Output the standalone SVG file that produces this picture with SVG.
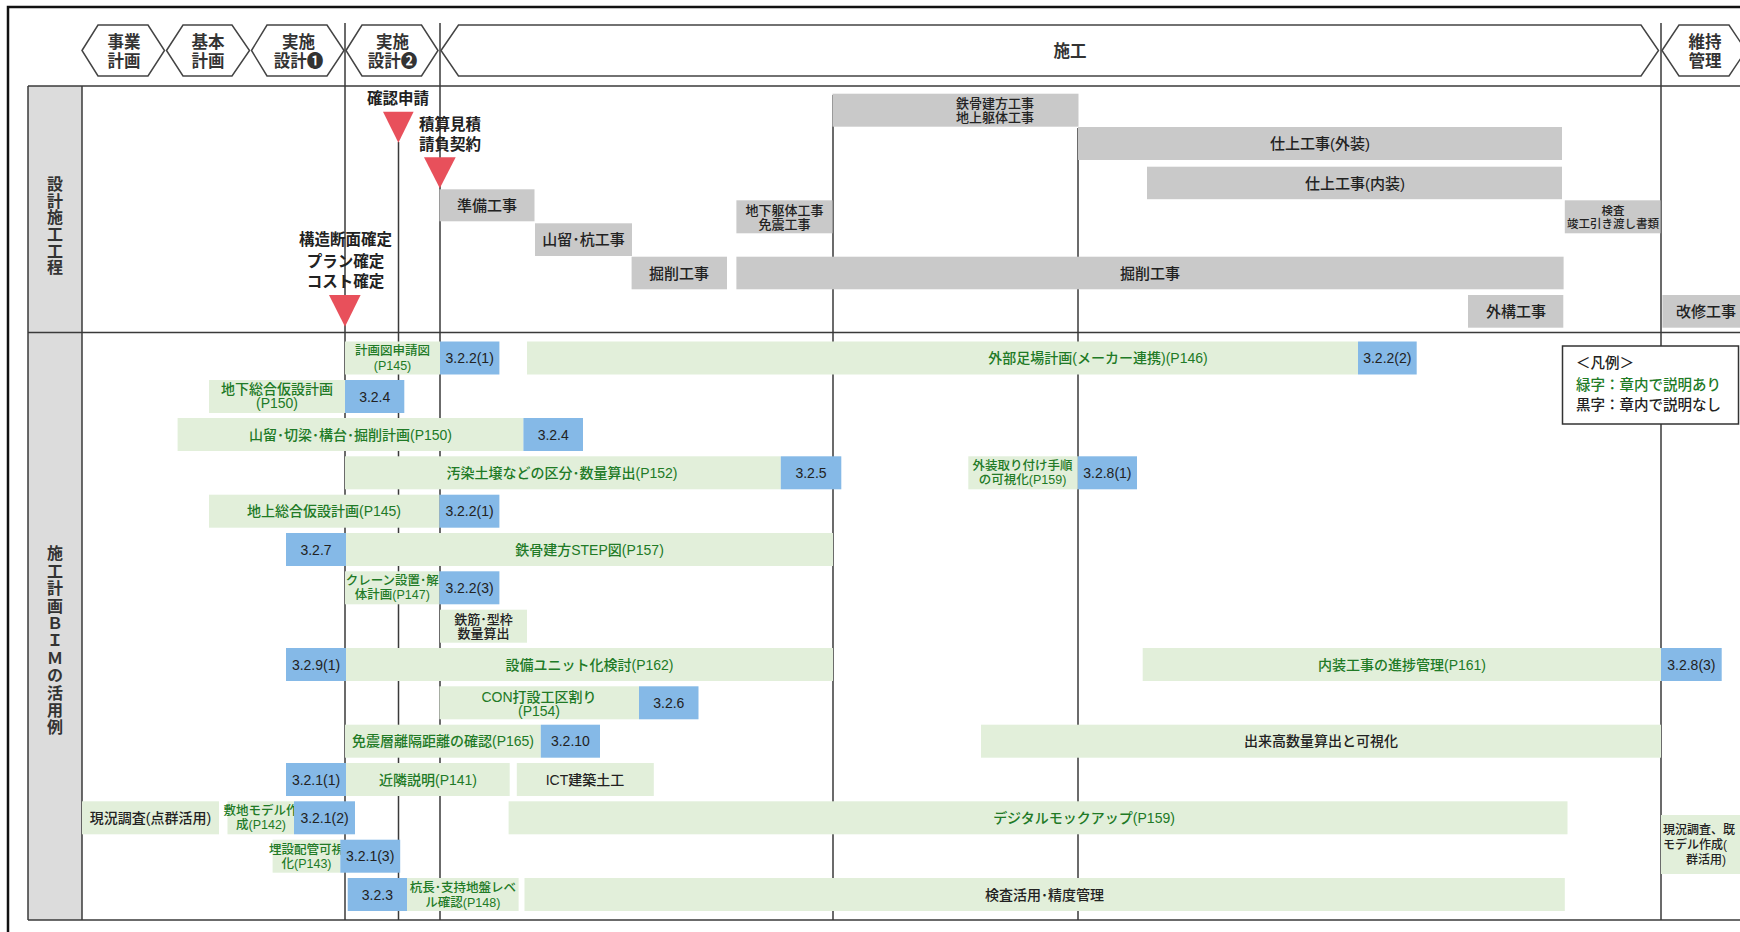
<svg xmlns="http://www.w3.org/2000/svg" width="1740" height="932" viewBox="0 0 1740 932">
<style>
.hex{fill:#fff;stroke:#444;stroke-width:1.5}
.ln{stroke:#3a3a3a;stroke-width:1.5;fill:none}
.k{fill:#c9c9c9}
.g{fill:#e2efda}
.b{fill:#85b9e7}
.tri{fill:#e8505b}
text{font-family:"Liberation Sans","Noto Sans CJK JP",sans-serif;dominant-baseline:central;text-anchor:middle;fill:#222;font-weight:500}
.h{font-size:16.5px;font-weight:bold;fill:#333}
.m{font-size:15.5px;font-weight:bold;fill:#222}
.gt{font-size:15px}
.gs{font-size:13px}
.gx{font-size:11.5px}
.n{font-family:"Liberation Sans",Arial,sans-serif;font-size:14px;fill:#222;font-weight:normal}
.tg{fill:#217a26;font-size:14px}
.tgs{fill:#217a26;font-size:12.5px}
.tk{fill:#222;font-size:14px}
.tks{fill:#222;font-size:13px}
.lab{font-family:"Noto Sans CJK JP",sans-serif;font-size:16px;fill:#333;font-weight:bold;writing-mode:vertical-rl;text-orientation:upright}
.lg{font-size:14.5px;text-anchor:start}
</style>
<rect x="0" y="0" width="1740" height="932" fill="#fff"/>
<rect x="8" y="7" width="1800" height="1000" fill="none" stroke="#111" stroke-width="2.5"/>

<!-- label column -->
<g id="label-column">
<rect x="28" y="86" width="54" height="834" fill="#dcdcdc"/>
<text class="lab" x="55" y="226" letter-spacing="0.7">設計施工工程</text>
<text class="lab" x="55" y="641" letter-spacing="1.4">施工計画ＢＩＭの活用例</text>
</g>

<!-- grid lines -->
<g id="lines">
<line class="ln" x1="28" y1="86" x2="1740" y2="86"/>
<line class="ln" x1="28" y1="332.5" x2="1740" y2="332.5"/>
<line class="ln" x1="28" y1="920" x2="1740" y2="920"/>
<line class="ln" x1="28" y1="86" x2="28" y2="920"/>
<line class="ln" x1="82" y1="86" x2="82" y2="920"/>
<line class="ln" x1="345" y1="23" x2="345" y2="920"/>
<line class="ln" x1="398.5" y1="142" x2="398.5" y2="920"/>
<line class="ln" x1="440" y1="23" x2="440" y2="920"/>
<line class="ln" x1="833" y1="95" x2="833" y2="920"/>
<line class="ln" x1="1078" y1="128" x2="1078" y2="920"/>
<line class="ln" x1="1661" y1="23" x2="1661" y2="920"/>
</g>

<!-- header phases -->
<g id="phase-jigyo"><polygon class="hex" points="82,50.5 98,25 148,25 164.5,50.5 148,76 98,76"/><text class="h" x="124" y="41.5">事業<tspan x="124" y="61">計画</tspan></text></g>
<g id="phase-kihon"><polygon class="hex" points="166.5,50.5 183,25 232,25 249.5,50.5 232,76 183,76"/><text class="h" x="208" y="41.5">基本<tspan x="208" y="61">計画</tspan></text></g>
<g id="phase-jisshi1"><polygon class="hex" points="251.5,50.5 267,25 327,25 344,50.5 327,76 267,76"/><text class="h" x="298.5" y="41.5">実施<tspan x="298.5" y="61">設計❶</tspan></text></g>
<g id="phase-jisshi2"><polygon class="hex" points="346,50.5 362,25 421.5,25 438,50.5 421.5,76 362,76"/><text class="h" x="392.5" y="41.5">実施<tspan x="392.5" y="61">設計❷</tspan></text></g>
<g id="phase-seko"><polygon class="hex" points="441,50.5 458.5,25 1641,25 1658.5,50.5 1641,76 458.5,76"/><text class="h" x="1070" y="51">施工</text></g>
<g id="phase-iji"><polygon class="hex" points="1662,50.5 1679,25 1729,25 1746,50.5 1729,76 1679,76"/><text class="h" x="1705" y="41.5">維持<tspan x="1705" y="61">管理</tspan></text></g>

<!-- section 1: construction process -->
<g id="p-tekkotsu"><rect class="k" x="832.5" y="93.7" width="246" height="33"/><text class="gs" x="995" y="103.5">鉄骨建方工事<tspan x="995" y="117">地上躯体工事</tspan></text></g>
<g id="p-shiage-gaiso"><rect class="k" x="1078" y="127" width="484" height="33"/><text class="gt" x="1320" y="143.5">仕上工事(外装)</text></g>
<g id="p-shiage-naiso"><rect class="k" x="1147" y="166.7" width="415" height="32.5"/><text class="gt" x="1355" y="183">仕上工事(内装)</text></g>
<g id="p-junbi"><rect class="k" x="439.5" y="189.3" width="95" height="32"/><text class="gt" x="487" y="205">準備工事</text></g>
<g id="p-chika"><rect class="k" x="736.4" y="200.3" width="96.1" height="33"/><text class="gs" x="784.5" y="210.5">地下躯体工事<tspan x="784.5" y="224">免震工事</tspan></text></g>
<g id="p-yamadome"><rect class="k" x="535" y="223.3" width="97" height="32.7"/><text class="gt" x="583.5" y="239.7">山留･杭工事</text></g>
<g id="p-kensa"><rect class="k" x="1564.8" y="200.3" width="95.7" height="33"/><text class="gx" x="1613" y="210.5">検査<tspan x="1613" y="224">竣工引き渡し書類</tspan></text></g>
<g id="p-kussaku1"><rect class="k" x="631.6" y="256.7" width="95.4" height="32.6"/><text class="gt" x="679" y="273">掘削工事</text></g>
<g id="p-kussaku2"><rect class="k" x="736.4" y="256.7" width="827.2" height="32.6"/><text class="gt" x="1150" y="273">掘削工事</text></g>
<g id="p-gaiko"><rect class="k" x="1468" y="295" width="95.3" height="32.7"/><text class="gt" x="1516" y="311.4">外構工事</text></g>
<g id="p-kaishu"><rect class="k" x="1662.4" y="295" width="100" height="32.7"/><text class="gt" x="1706" y="311.4">改修工事</text></g>

<!-- milestones -->
<g id="m-kakunin"><polygon class="tri" points="383,111.7 413.6,111.7 398.4,142.7"/><text class="m" x="398" y="98">確認申請</text></g>
<g id="m-sekisan"><polygon class="tri" points="424,157.3 455.7,157.3 439.8,188.3"/><text class="m" x="450" y="124">積算見積<tspan x="450" y="144">請負契約</tspan></text></g>
<g id="m-kakutei"><polygon class="tri" points="329,295 360.6,295 345,326.7"/><text class="m" x="345.5" y="239.5">構造断面確定<tspan x="345.5" y="260.5">プラン確定</tspan><tspan x="345.5" y="280.5">コスト確定</tspan></text></g>

<!-- section 2 rows -->
<g id="r1">
<rect class="g" x="345" y="341.5" width="95" height="33"/><text class="tgs" x="392.5" y="351">計画図申請図<tspan x="392.5" y="365.5">(P145)</tspan></text>
<rect class="b" x="440" y="341.5" width="59.4" height="33"/><text class="n" x="469.7" y="358">3.2.2(1)</text>
<rect class="g" x="527" y="341.5" width="831" height="33"/><text class="tg" x="1098" y="358">外部足場計画(メーカー連携)(P146)</text>
<rect class="b" x="1358" y="341.5" width="58.7" height="33"/><text class="n" x="1387.3" y="358">3.2.2(2)</text>
</g>
<g id="r2">
<rect class="g" x="209" y="380" width="136" height="33"/><text class="tg" x="277" y="389">地下総合仮設計画<tspan x="277" y="403">(P150)</tspan></text>
<rect class="b" x="345" y="380" width="59.3" height="33"/><text class="n" x="374.7" y="396.5">3.2.4</text>
</g>
<g id="r3">
<rect class="g" x="177.6" y="418" width="345.8" height="33"/><text class="tg" x="350.5" y="434.5">山留･切梁･構台･掘削計画(P150)</text>
<rect class="b" x="523.4" y="418" width="59.6" height="33"/><text class="n" x="553.2" y="434.5">3.2.4</text>
</g>
<g id="r4">
<rect class="g" x="345" y="456.3" width="435.8" height="33"/><text class="tg" x="562" y="472.8">汚染土壌などの区分･数量算出(P152)</text>
<rect class="b" x="780.8" y="456.3" width="60.5" height="33"/><text class="n" x="811" y="472.8">3.2.5</text>
<rect class="g" x="968.3" y="456.3" width="109.5" height="33"/><text class="tgs" x="1022.6" y="466">外装取り付け手順<tspan x="1022.6" y="480">の可視化(P159)</tspan></text>
<rect class="b" x="1077.8" y="456.3" width="59.2" height="33"/><text class="n" x="1107.4" y="472.8">3.2.8(1)</text>
</g>
<g id="r5">
<rect class="g" x="209" y="494.7" width="230.5" height="33"/><text class="tg" x="324" y="511.2">地上総合仮設計画(P145)</text>
<rect class="b" x="439.5" y="494.7" width="59.9" height="33"/><text class="n" x="469.5" y="511.2">3.2.2(1)</text>
</g>
<g id="r6">
<rect class="b" x="286" y="533" width="60" height="33"/><text class="n" x="316" y="549.5">3.2.7</text>
<rect class="g" x="346" y="533" width="487" height="33"/><text class="tg" x="589.5" y="549.5">鉄骨建方STEP図(P157)</text>
</g>
<g id="r7">
<rect class="g" x="345" y="571.3" width="94.5" height="33"/><text class="tgs" x="392.3" y="580.5">クレーン設置･解<tspan x="392.3" y="594.5">体計画(P147)</tspan></text>
<rect class="b" x="439.5" y="571.3" width="59.9" height="33"/><text class="n" x="469.5" y="587.8">3.2.2(3)</text>
</g>
<g id="r8">
<rect class="g" x="440" y="609.7" width="87" height="33"/><text class="tks" x="483.5" y="619">鉄筋･型枠<tspan x="483.5" y="633">数量算出</tspan></text>
</g>
<g id="r9">
<rect class="b" x="286" y="648" width="60" height="33"/><text class="n" x="316" y="664.5">3.2.9(1)</text>
<rect class="g" x="346" y="648" width="487" height="33"/><text class="tg" x="589.5" y="664.5">設備ユニット化検討(P162)</text>
<rect class="g" x="1142.7" y="648" width="518.3" height="33"/><text class="tg" x="1402" y="664.5">内装工事の進捗管理(P161)</text>
<rect class="b" x="1661" y="648" width="60.7" height="33"/><text class="n" x="1691.4" y="664.5">3.2.8(3)</text>
</g>
<g id="r10">
<rect class="g" x="439.5" y="686.3" width="199.5" height="33"/><text class="tg" x="539" y="696.5">CON打設工区割り<tspan x="539" y="710.5">(P154)</tspan></text>
<rect class="b" x="639" y="686.3" width="59.5" height="33"/><text class="n" x="668.8" y="702.8">3.2.6</text>
</g>
<g id="r11">
<rect class="g" x="345" y="724.7" width="195.8" height="33"/><text class="tg" x="443" y="741.2">免震層離隔距離の確認(P165)</text>
<rect class="b" x="540.8" y="724.7" width="59.2" height="33"/><text class="n" x="570.4" y="741.2">3.2.10</text>
<rect class="g" x="981" y="724.7" width="680" height="33"/><text class="tk" x="1321" y="741.2">出来高数量算出と可視化</text>
</g>
<g id="r12">
<rect class="b" x="286" y="763" width="60" height="33"/><text class="n" x="316" y="779.5">3.2.1(1)</text>
<rect class="g" x="346" y="763" width="163.7" height="33"/><text class="tg" x="428" y="779.5">近隣説明(P141)</text>
<rect class="g" x="516.8" y="763" width="137" height="33"/><text class="tk" x="585" y="779.5">ICT建築土工</text>
</g>
<g id="r13">
<rect class="g" x="82" y="801.3" width="137" height="33"/><text class="tk" x="150.5" y="817.8">現況調査(点群活用)</text>
<rect class="g" x="227.5" y="801.3" width="66.5" height="33"/><text class="tgs" x="261" y="811">敷地モデル作<tspan x="261" y="825">成(P142)</tspan></text>
<rect class="b" x="294" y="801.3" width="61" height="33"/><text class="n" x="324.5" y="817.8">3.2.1(2)</text>
<rect class="g" x="508.6" y="801.3" width="1058.9" height="33"/><text class="tg" x="1084" y="817.8">デジタルモックアップ(P159)</text>
<rect class="g" x="1661" y="815" width="100" height="59"/><text style="font-size:12px;text-anchor:start" x="1663" y="830">現況調査、既<tspan x="1663" y="845">モデル作成(</tspan><tspan x="1706" y="860" style="text-anchor:middle">群活用)</tspan></text>
</g>
<g id="r14">
<rect class="g" x="272.6" y="839.7" width="67.7" height="33"/><text class="tgs" x="306.5" y="849.5">埋設配管可視<tspan x="306.5" y="864">化(P143)</tspan></text>
<rect class="b" x="340.3" y="839.7" width="59.9" height="33"/><text class="n" x="370.2" y="856.2">3.2.1(3)</text>
</g>
<g id="r15">
<rect class="b" x="347.7" y="878" width="59.3" height="33"/><text class="n" x="377.4" y="894.5">3.2.3</text>
<rect class="g" x="407" y="878" width="111.6" height="33"/><text class="tgs" x="462.8" y="888">杭長･支持地盤レベ<tspan x="462.8" y="902.5">ル確認(P148)</tspan></text>
<rect class="g" x="524.5" y="878" width="1040.3" height="33"/><text class="tk" x="1044.6" y="894.5">検査活用･精度管理</text>
</g>

<!-- legend -->
<g id="legend">
<rect x="1562.5" y="346" width="176" height="78" fill="#fff" stroke="#333" stroke-width="1.5"/>
<text class="lg" x="1576" y="363">＜凡例＞</text>
<text class="lg" x="1576" y="385" style="fill:#217a26">緑字：章内で説明あり</text>
<text class="lg" x="1576" y="405">黒字：章内で説明なし</text>
</g>
</svg>
